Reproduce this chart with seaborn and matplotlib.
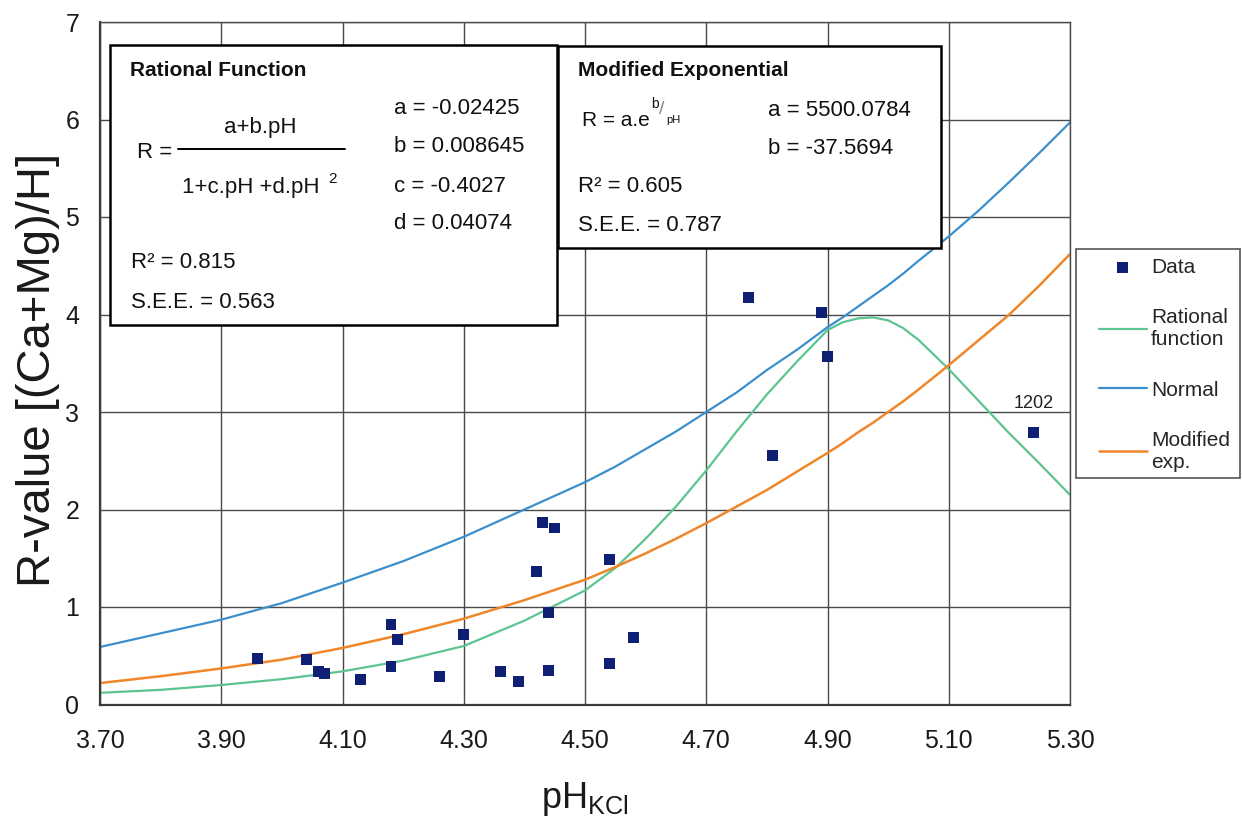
import matplotlib
matplotlib.use("Agg")
import matplotlib.pyplot as plt
import seaborn as sns
from matplotlib.patches import Rectangle
from matplotlib.lines import Line2D

# ---------------- data ----------------
ph_data = [3.96, 4.04, 4.06, 4.07, 4.13, 4.18, 4.19, 4.18, 4.26, 4.30,
           4.36, 4.39, 4.42, 4.43, 4.45, 4.44, 4.44, 4.54, 4.54, 4.58,
           4.77, 4.81, 4.89, 4.90, 5.24]
r_data = [0.47, 0.46, 0.34, 0.32, 0.26, 0.82, 0.67, 0.39, 0.29, 0.72,
          0.34, 0.24, 1.36, 1.87, 1.81, 0.94, 0.35, 1.49, 0.42, 0.69,
          4.17, 2.55, 4.02, 3.57, 2.79]

ph_curve = [3.70, 3.80, 3.90, 4.00, 4.10, 4.20, 4.30, 4.40, 4.50, 4.55,
            4.60, 4.65, 4.70, 4.75, 4.80, 4.85, 4.90, 4.925, 4.95, 4.975,
            5.00, 5.025, 5.05, 5.10, 5.15, 5.20, 5.25, 5.30]
r_rational = [0.12, 0.15, 0.20, 0.26, 0.34, 0.45, 0.60, 0.86, 1.17, 1.40,
              1.70, 2.03, 2.40, 2.80, 3.18, 3.52, 3.84, 3.92, 3.96, 3.97,
              3.94, 3.86, 3.74, 3.44, 3.11, 2.78, 2.47, 2.15]
r_normal = [0.59, 0.73, 0.87, 1.04, 1.25, 1.47, 1.72, 2.00, 2.28, 2.44,
            2.62, 2.80, 3.00, 3.20, 3.43, 3.64, 3.87, 3.97, 4.08, 4.19,
            4.30, 4.42, 4.55, 4.80, 5.07, 5.36, 5.66, 5.97]
r_modexp = [0.22, 0.29, 0.37, 0.46, 0.58, 0.72, 0.88, 1.07, 1.28, 1.41,
            1.55, 1.70, 1.86, 2.03, 2.20, 2.39, 2.58, 2.68, 2.79, 2.89,
            3.00, 3.11, 3.23, 3.48, 3.74, 4.00, 4.30, 4.62]

x_ticks = [3.70, 3.90, 4.10, 4.30, 4.50, 4.70, 4.90, 5.10, 5.30]
x_tick_labels = ["3.70", "3.90", "4.10", "4.30", "4.50", "4.70", "4.90", "5.10", "5.30"]
y_ticks = [0, 1, 2, 3, 4, 5, 6, 7]
series_labels = ["Data", "Rational\nfunction", "Normal", "Modified\nexp."]
outlier_label = "1202"

# ---------------- styling ----------------
sns.set_theme(style="white")
plt.rcParams['font.family'] = ['Liberation Sans', 'DejaVu Sans']
plt.rcParams['mathtext.default'] = 'regular'

C_DATA = "#0f1f73"
C_RAT = "#5cc490"
C_NORM = "#3a8fcc"
C_EXP = "#f0862a"
C_GRID = "#4a4a4a"

W, H = 1242, 818
fig = plt.figure(figsize=(W / 100, H / 100), dpi=100)
fig.patch.set_facecolor("white")
ax = fig.add_axes([100 / W, 1 - 704.5 / H, 970 / W, 682.5 / H])


def fx(px):
    return px / W


def fy(py):
    return 1 - py / H


sns.lineplot(x=ph_curve, y=r_rational, color=C_RAT, lw=1.6, ax=ax,
             estimator=None, label=series_labels[1], zorder=2)
sns.lineplot(x=ph_curve, y=r_normal, color=C_NORM, lw=1.6, ax=ax,
             estimator=None, label=series_labels[2], zorder=2)
sns.lineplot(x=ph_curve, y=r_modexp, color=C_EXP, lw=1.8, ax=ax,
             estimator=None, label=series_labels[3], zorder=2)
sns.scatterplot(x=ph_data, y=r_data, marker="s", s=62, color=C_DATA,
                edgecolor="none", linewidth=0, ax=ax, label=series_labels[0],
                zorder=4)

ax.annotate(outlier_label, xy=(ph_data[-1], r_data[-1]), xytext=(0, 21),
            textcoords="offset points", ha="center", va="center",
            fontsize=13, color="#222222")

ax.set_xlim(x_ticks[0], x_ticks[-1])
ax.set_ylim(y_ticks[0], y_ticks[-1])
ax.set_xticks(x_ticks)
ax.set_xticklabels(x_tick_labels)
ax.set_yticks(y_ticks)
ax.grid(True, color=C_GRID, lw=1.0)
ax.set_axisbelow(True)
for side in ["left", "bottom"]:
    ax.spines[side].set_color("#3a3a3a")
    ax.spines[side].set_linewidth(1.6)
for side in ["top", "right"]:
    ax.spines[side].set_color(C_GRID)
    ax.spines[side].set_linewidth(1.0)
ax.tick_params(axis="both", which="major", direction="out", length=6,
               width=1.2, color="#3a3a3a", labelsize=18, labelcolor="#1a1a1a")
ax.tick_params(axis="x", pad=12)
ax.tick_params(axis="y", pad=9)

ax.set_ylabel("R-value [(Ca+Mg)/H]", fontsize=34, color="#1a1a1a")
ax.yaxis.set_label_coords(-0.041, 0.49)
ax.set_xlabel("pH$_{KCl}$", fontsize=26, color="#1a1a1a", labelpad=19)

# ---------------- legend ----------------
handles, labels = ax.get_legend_handles_labels()
order = [labels.index(l) for l in series_labels]
leg = ax.legend([handles[i] for i in order], [labels[i] for i in order],
                loc="upper left", bbox_to_anchor=(fx(1099), fy(258)),
                bbox_transform=fig.transFigure, frameon=False, borderpad=0,
                borderaxespad=0, fontsize=15, handlelength=2.3,
                handletextpad=0.2, labelspacing=1.5)
fig.add_artist(Rectangle((fx(1076), fy(478)), (1240 - 1076) / W, (478 - 249) / H,
                         transform=fig.transFigure, facecolor="none",
                         edgecolor="#555555", lw=1.2, zorder=5))

# ---------------- equation boxes ----------------
def box(x0, y0, x1, y1):
    fig.add_artist(Rectangle((fx(x0), fy(y1)), (x1 - x0) / W, (y1 - y0) / H,
                             transform=fig.transFigure, facecolor="white",
                             edgecolor="black", lw=1.8, zorder=5))


def txt(px, py, s, size=16, ha="left", color="#111111", **kw):
    fig.text(fx(px), fy(py), s, fontsize=size, ha=ha, va="center",
             zorder=6, color=color, **kw)


box(110, 45, 557, 325)
txt(130, 70, "Rational Function", 15, fontweight="bold")
txt(137, 152, "R =")
txt(260, 127, "a+b.pH", ha="center")
fig.add_artist(Line2D([fx(178), fx(345)], [fy(149), fy(149)],
                      transform=fig.transFigure, color="black", lw=1.4, zorder=6))
txt(251, 187, "1+c.pH +d.pH", ha="center")
txt(328, 179, "2", 11)
txt(394, 108, "a = -0.02425")
txt(394, 147, "b = 0.008645")
txt(394, 186, "c = -0.4027")
txt(394, 224, "d = 0.04074")
txt(131, 263, "R\u00b2 = 0.815")
txt(131, 302, "S.E.E. = 0.563")

box(558, 46, 941, 248)
txt(578, 70, "Modified Exponential", 15, fontweight="bold")
txt(582, 120, "R = a.e", 15)
txt(651, 104, "b", 10)
txt(659, 110, "/", 14, color="#888888")
txt(666, 120, "pH", 8)
txt(768, 110, "a = 5500.0784")
txt(768, 148, "b = -37.5694")
txt(578, 187, "R\u00b2 = 0.605")
txt(578, 225, "S.E.E. = 0.787")

fig.savefig("out.png", dpi=100, facecolor="white")
